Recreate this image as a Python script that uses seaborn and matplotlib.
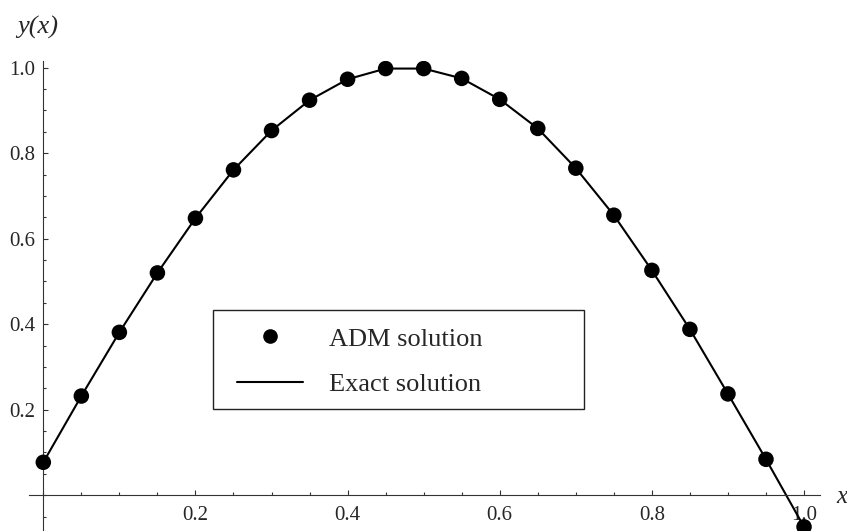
import pandas as pd
import matplotlib
matplotlib.use("Agg")
import matplotlib.pyplot as plt
import seaborn as sns
from matplotlib.lines import Line2D
from matplotlib.patches import Rectangle
from matplotlib.ticker import FixedLocator, MultipleLocator

# valori
x_vals = [0.0, 0.05, 0.10, 0.15, 0.20, 0.25, 0.30, 0.35, 0.40, 0.45, 0.50,
          0.55, 0.60, 0.65, 0.70, 0.75, 0.80, 0.85, 0.90, 0.95, 1.0]
adm_y = [0.077, 0.232, 0.381, 0.520, 0.648, 0.761, 0.853, 0.924, 0.973, 0.998, 0.998,
         0.975, 0.926, 0.858, 0.765, 0.655, 0.526, 0.388, 0.237, 0.084, -0.074]
exact_y = [0.077, 0.232, 0.381, 0.520, 0.648, 0.761, 0.853, 0.924, 0.973, 0.998, 0.998,
           0.975, 0.926, 0.858, 0.765, 0.655, 0.526, 0.388, 0.237, 0.084, -0.074]

x_ticks = [0.2, 0.4, 0.6, 0.8, 1.0]
y_ticks = [0.2, 0.4, 0.6, 0.8, 1.0]

df = pd.DataFrame({"x": x_vals, "ADM": adm_y, "Exact": exact_y})

sns.set_style("white")
plt.rcParams["font.family"] = ["Liberation Serif", "DejaVu Serif"]

W, H = 847, 531
fig = plt.figure(figsize=(W / 100, H / 100), dpi=100)
ax = fig.add_axes([29 / W, 0, (820 - 29) / W, (531 - 61) / H])

sns.lineplot(data=df, x="x", y="Exact", ax=ax, color="black", linewidth=1.5, zorder=2)
sns.scatterplot(data=df, x="x", y="ADM", ax=ax, color="black", s=125,
                edgecolor="none", zorder=3)

ax.set_xlim(-0.0188, 1.021)
ax.set_ylim(-0.0837, 1.0157)

# axe care se intersecteaza in origine (stil Mathematica)
for side in ["top", "right"]:
    ax.spines[side].set_visible(False)
ax.spines["left"].set_position(("data", 0))
ax.spines["bottom"].set_position(("data", 0))
for side in ["left", "bottom"]:
    ax.spines[side].set_linewidth(0.8)
    ax.spines[side].set_color("#333333")

ax.xaxis.set_major_locator(FixedLocator(x_ticks))
ax.yaxis.set_major_locator(FixedLocator(y_ticks))
ax.xaxis.set_minor_locator(MultipleLocator(0.05))
ax.yaxis.set_minor_locator(MultipleLocator(0.05))
ax.set_xticklabels([f"{t:.1f}" for t in x_ticks])
ax.set_yticklabels([f"{t:.1f}" for t in y_ticks])
ax.tick_params(which="both", direction="in", color="#333333", width=0.8,
               bottom=True, left=True, top=False, right=False)
ax.tick_params(which="major", length=3.8, labelsize=15)
ax.tick_params(axis="x", which="major", pad=8)
ax.tick_params(axis="y", which="major", pad=6)
ax.tick_params(which="minor", length=2.2)
ax.set_xlabel("")
ax.set_ylabel("")
ax.grid(False)

fig.text(17 / W, 1 - 34 / H, "y(x)", fontsize=19, style="italic",
         ha="left", va="baseline")
fig.text(836 / W, 1 - 503 / H, "x", fontsize=18, style="italic",
         ha="left", va="baseline")

handles = [
    Line2D([], [], marker="o", color="black", linestyle="none", markersize=9.5),
    Line2D([], [], color="black", linewidth=1.5),
]
fig.legend(handles, ["ADM solution", "Exact solution"], loc="upper left",
           bbox_to_anchor=(224 / W, 1 - 314 / H), frameon=False, borderpad=0,
           fontsize=19, handlelength=2.48, handletextpad=1.0, labelspacing=0.82,
           numpoints=1)
fig.patches.append(Rectangle((213 / W, 1 - 409 / H), (584 - 213) / W, 99 / H,
                             transform=fig.transFigure, fill=False,
                             edgecolor="#222222", linewidth=1.0))

fig.savefig("out.png", dpi=100)
